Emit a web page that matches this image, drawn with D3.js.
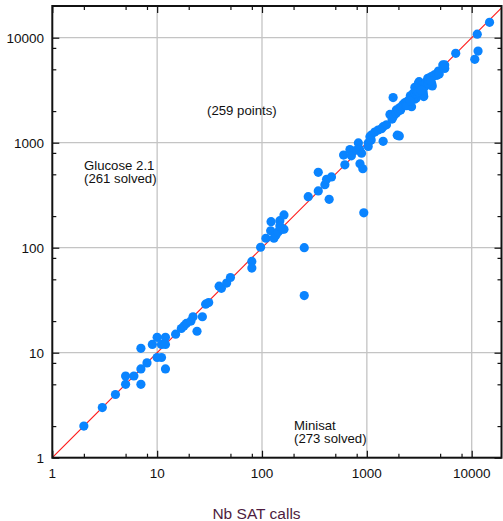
<!DOCTYPE html>
<html><head><meta charset="utf-8">
<script src="https://cdn.jsdelivr.net/npm/d3@7/dist/d3.min.js"></script>
<style>
body{margin:0;background:#fff;}
text{font-family:"Liberation Sans",Arial,Helvetica,sans-serif;}
</style></head>
<body><svg id="chart" width="503" height="521"></svg>
<script>
// Minisat calls (x) vs Glucose 2.1 calls (y)
const minisatCalls = [2,3,4,5,5,6,7,7,8,7,9,10,10,11,11,12,12,12,15,17,18,19,21,22,24,27,29,31,39,41,46,50,80,80,97,253,253,
109,121,122,130,136,143,148,156,162,162,148,276,344,344,398,413,460,437,617,600,690,712,800,830,850,890,860,915,935,
1030,1030,1070,1100,1100,1190,1280,1380,1430,1430,1540,1660,1740,1780,1910,1950,2040,
2050,2200,2300,2500,2600,2670,2770,2850,2950,2870,3100,3150,3200,3300,3450,3440,3490,3700,3810,4000,4150,4210,4120,4250,4450,4660,4800,4820,4900,5300,5530,5530,7040,10700,11300,11500,14800,
1800,1900,2000,2100,2150,2250,2350,2400,2450,2550,2700,2750,2900,3000,3000,3100,3250,3350,3400,3550,3600,3650,3800,3900,4050,3300,2400,2600];
const glucoseCalls = [2,3,4,5,6,6,5,7,8,11,12,14,9,9,12,14,12,7,15,17,18,19,20,22,16,22,29,30,43,41,46,52,74,64,101,100,35,
123,145,177,123,132,142,181,150,205,150,161,306,347,522,398,448,472,289,615,762,860,750,850,995,870,794,630,565,215,
995,920,1140,1180,1060,1265,1320,1360,1420,1030,1480,1860,1680,2690,2050,1180,1160,
2150,2300,2400,2500,2800,2200,2950,2600,2650,3370,3680,3810,3200,3300,2900,3060,2750,3800,4100,4000,3680,3470,4260,4250,4450,4380,4700,4820,4500,5500,5100,5500,7100,6220,10800,7460,14000,
1800,1900,2000,2050,2200,2250,2300,2450,2350,2600,2700,2650,2900,2950,3100,3050,3400,3500,3350,3600,3450,3700,3700,3950,3900,3150,2250,2500];
const majorTicks = [1,10,100,1000,10000];
const majorLabels = ["1","10","100","1000","10000"];
const minorTicks = [2,5,8,20,50,80,200,500,800,2000,5000,8000];
const xTitle = "Nb SAT calls";
const notes = [
  {lines:["(259 points)"], x:207, y:115},
  {lines:["Glucose 2.1","(261 solved)"], x:84, y:169.5},
  {lines:["Minisat","(273 solved)"], x:294, y:429.5}
];

const L=52.3, R=501.5, T=6, B=457.7;
const x = d3.scaleLog().domain([1,10**((R-L)/104.85)]).range([L,R]);
const y = d3.scaleLog().domain([1,10**((B-T)/105)]).range([B,T]);
const svg = d3.select("#chart");

// grid
const g = svg.append("g");
g.selectAll("line.gx").data(majorTicks.slice(1)).join("line").attr("class","gx")
 .attr("x1",d=>x(d)).attr("x2",d=>x(d)).attr("y1",T).attr("y2",B)
 .attr("stroke","#c4c4c4").attr("stroke-width",1.3);
g.selectAll("line.gy").data(majorTicks.slice(1)).join("line").attr("class","gy")
 .attr("y1",d=>y(d)).attr("y2",d=>y(d)).attr("x1",L).attr("x2",R)
 .attr("stroke","#c4c4c4").attr("stroke-width",1.3);

// diagonal
const dmax = Math.min(x.domain()[1], y.domain()[1]);
svg.append("line").attr("x1",x(1)).attr("y1",y(1)).attr("x2",x(dmax)).attr("y2",y(dmax))
 .attr("stroke","#ff1a1a").attr("stroke-width",1.15);

// points
svg.append("g").selectAll("circle").data(minisatCalls.map((d,i)=>[d,glucoseCalls[i]])).join("circle")
 .attr("cx",d=>x(d[0])).attr("cy",d=>y(d[1])).attr("r",4.6).attr("fill","#0a84ff");

// axes with inward ticks
function side(axisFn, scale, transform, vals, size){
  svg.append("g").attr("transform",transform)
   .call(axisFn(scale).tickValues(vals).tickSize(size).tickFormat(""))
   .call(s=>s.select(".domain").remove())
   .call(s=>s.selectAll(".tick line").attr("stroke","#111").attr("stroke-width",1.2));
}
side(d3.axisTop, x, `translate(0,${B})`, minorTicks, 4);
side(d3.axisTop, x, `translate(0,${B})`, majorTicks, 7);
side(d3.axisBottom, x, `translate(0,${T})`, minorTicks, 4);
side(d3.axisBottom, x, `translate(0,${T})`, majorTicks, 7);
side(d3.axisRight, y, `translate(${L},0)`, minorTicks, 4);
side(d3.axisRight, y, `translate(${L},0)`, majorTicks, 7);
side(d3.axisLeft, y, `translate(${R},0)`, minorTicks, 4);
side(d3.axisLeft, y, `translate(${R},0)`, majorTicks, 7);

// frame
svg.append("rect").attr("x",L).attr("y",T).attr("width",R-L).attr("height",B-T)
 .attr("fill","none").attr("stroke","#111").attr("stroke-width",2);

// tick labels
svg.append("g").selectAll("text").data(majorTicks).join("text")
 .attr("x",d=>x(d)).attr("y",478).attr("text-anchor","middle")
 .attr("font-size","13.5px").attr("fill","#111").text((d,i)=>majorLabels[i]);
svg.append("g").selectAll("text").data(majorTicks).join("text")
 .attr("x",44).attr("y",d=>y(d)+5).attr("text-anchor","end")
 .attr("font-size","13.5px").attr("fill","#111").text((d,i)=>majorLabels[i]);

// title
svg.append("text").attr("x",256.5).attr("y",518.5).attr("text-anchor","middle")
 .attr("font-size","15.5px").attr("fill","#4e1c40").text(xTitle);

// notes (one text element per line)
notes.forEach(n=>{
  n.lines.forEach((l,i)=>svg.append("text").attr("x",n.x).attr("y",n.y+i*13.2)
    .attr("font-size","13.2px").attr("fill","#111").text(l));
});
</script></body></html>
